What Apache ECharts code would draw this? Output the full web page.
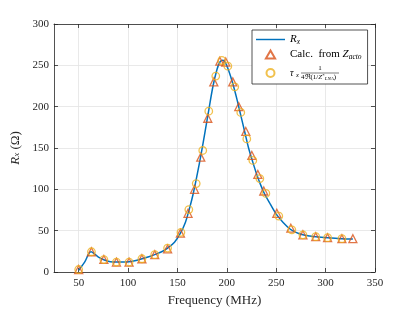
<!DOCTYPE html>
<html>
<head>
<meta charset="utf-8">
<script src="https://cdn.jsdelivr.net/npm/echarts@6/dist/echarts.min.js"></script>
<style>html,body{margin:0;padding:0;background:#fff}#c{width:415px;height:312px}</style>
</head>
<body>
<div id="c"></div>
<script>
// ---- data ----
const xTicks = [50, 100, 150, 200, 250, 300, 350];
const yTicks = [0, 50, 100, 150, 200, 250, 300];

// Rx (solid blue curve)
const lineFreq = [50, 56, 62.5, 66, 70, 76, 82, 88, 95, 101, 108, 114, 121, 127, 134, 140, 147, 153, 158, 162, 166, 170, 174, 178, 182, 186, 190, 193, 196, 199, 202, 206, 210, 214, 218, 222, 226, 230, 234, 238, 244, 250, 257, 264, 270, 277, 284, 290, 302, 316, 327.6];
const lineVals = [2, 12, 24.5, 22, 18, 14.5, 12.5, 12, 12, 12.5, 14, 16, 18.5, 21, 24.5, 29, 36, 47, 60, 76, 95, 118, 143, 170, 198, 225, 245, 254, 256, 252, 243, 228, 210, 190, 170, 150, 134, 119, 106, 95, 82, 70, 60, 52, 48, 45, 43.5, 42.5, 41.3, 40.3, 40];

// Calc. from Z_acto (triangles)
const triFreq = [50, 62.9, 75.5, 88.2, 101, 114, 127, 140, 153, 160.7, 167.3, 173.6, 180.7, 186.8, 192.9, 198.9, 206, 212.1, 219.2, 225.3, 231.4, 237.4, 250.6, 264.8, 277, 290, 302, 316.5, 327.6];
const triVals = [3, 24.5, 15.2, 12, 12, 16, 21, 28, 47, 71, 100, 139, 186, 230, 255, 254, 230, 200, 170, 141, 118, 98, 71, 53, 45, 42.7, 41.5, 40.3, 40.3];

// tau_x / (4 Re{1/Z*_LNA}) (circles)
const circFreq = [50, 62.9, 75.5, 88.2, 101, 114, 127, 140, 153.5, 161.5, 169, 175.6, 181.7, 188.8, 194.9, 201, 208, 214.1, 220.2, 226.3, 233.4, 239.5, 252.6, 265.8, 277, 290, 302, 316.5];
const circVals = [3, 24.5, 15, 12, 12, 16, 21, 29, 48, 75.5, 107, 147, 194.5, 237, 256, 249, 224, 193, 161, 135, 113, 95, 67.6, 51, 45, 42.7, 41.5, 40.3];

const zip = (a, b) => a.map((v, i) => [v, b[i]]);

const SERIF = "'Liberation Serif', 'DejaVu Serif', serif";
const AX = '#262626';
const GRID = '#e3e3e3';

const legendText = {
  'Rx': '{it|R}{sub|x}',
  'Calc': 'Calc.  from {it|Z}{sub|acto}',
  'Tau': '{pad|}{num|1}\n{tau|τ}{taus|x}{bar|}\n{pad|}{den|4ℜ(1/}{deni|Z}{sup|*}{dens|LNA}{den|)}'
};

const chart = echarts.init(document.getElementById('c'), null, {renderer: 'canvas'});
chart.setOption({
  animation: false,
  backgroundColor: '#fff',
  grid: {left: 54, right: 40, top: 24, bottom: 35},
  legend: {
    orient: 'vertical',
    left: 252, top: 30,
    itemWidth: 29, itemHeight: 8, itemGap: 2,
    padding: [3, 6, 1, 4],
    symbolKeepAspect: true,
    backgroundColor: '#fff',
    borderColor: AX, borderWidth: 0.8, borderRadius: 0,
    data: [
      {name: 'Rx', icon: 'path://M0,0 L100,0 L100,5 L0,5 Z'},
      {name: 'Calc', icon: 'path://M50,0 L100,87 L0,87 Z'},
      {name: 'Tau', icon: 'circle'}
    ],
    formatter: n => legendText[n],
    textStyle: {
      fontFamily: SERIF, fontSize: 11, color: '#000', lineHeight: 13,
      rich: {
        it: {fontFamily: SERIF, fontStyle: 'italic', fontSize: 11},
        sub: {fontFamily: SERIF, fontStyle: 'italic', fontSize: 7.5, verticalAlign: 'bottom', lineHeight: 10},
        pad: {width: 11, lineHeight: 8},
        num: {fontFamily: SERIF, fontSize: 7, width: 38, align: 'center', lineHeight: 8},
        tau: {fontFamily: SERIF, fontStyle: 'italic', fontSize: 10, lineHeight: 1, width: 6},
        taus: {fontFamily: SERIF, fontStyle: 'italic', fontSize: 6.5, lineHeight: 1, width: 5, padding: [5, 0, 0, 0]},
        bar: {width: 38, height: 0.7, lineHeight: 1, backgroundColor: '#000'},
        den: {fontFamily: SERIF, fontSize: 7, lineHeight: 8},
        deni: {fontFamily: SERIF, fontStyle: 'italic', fontSize: 7, lineHeight: 8},
        sup: {fontFamily: SERIF, fontSize: 5, lineHeight: 8, verticalAlign: 'top'},
        dens: {fontFamily: SERIF, fontStyle: 'italic', fontSize: 5, lineHeight: 8, verticalAlign: 'bottom'}
      }
    }
  },
  xAxis: [{
    type: 'value', min: 25, max: 350, position: 'bottom',
    name: 'Frequency (MHz)', nameLocation: 'middle', nameGap: 22,
    nameTextStyle: {fontFamily: SERIF, fontSize: 13, color: AX},
    axisLine: {show: true, onZero: false, lineStyle: {color: AX, width: 0.8}},
    axisTick: {show: true, inside: true, length: 4, customValues: xTicks, lineStyle: {color: AX, width: 0.8}},
    axisLabel: {customValues: xTicks, fontFamily: SERIF, fontSize: 11, color: AX, margin: 6},
    splitLine: {show: true, lineStyle: {color: GRID, width: 0.8}}
  }, {
    type: 'value', min: 25, max: 350, position: 'top',
    axisLine: {show: true, onZero: false, lineStyle: {color: AX, width: 0.8}},
    axisTick: {show: true, inside: true, length: 4, customValues: xTicks, lineStyle: {color: AX, width: 0.8}},
    axisLabel: {show: false},
    splitLine: {show: false}
  }],
  yAxis: [{
    type: 'value', min: 0, max: 300, interval: 50, position: 'left',
    name: '{i|R}{s|x} (Ω)', nameLocation: 'middle', nameGap: 28,
    nameTextStyle: {fontFamily: SERIF, fontSize: 13, color: AX,
      rich: {
        i: {fontFamily: SERIF, fontStyle: 'italic', fontSize: 13, color: AX},
        s: {fontFamily: SERIF, fontStyle: 'italic', fontSize: 9, color: AX, verticalAlign: 'bottom', lineHeight: 12}
      }},
    axisLine: {show: true, onZero: false, lineStyle: {color: AX, width: 0.8}},
    axisTick: {show: true, inside: true, length: 4, lineStyle: {color: AX, width: 0.8}},
    axisLabel: {fontFamily: SERIF, fontSize: 11, color: AX, margin: 5},
    splitLine: {show: true, lineStyle: {color: GRID, width: 0.8}}
  }, {
    type: 'value', min: 0, max: 300, interval: 50, position: 'right',
    axisLine: {show: true, onZero: false, lineStyle: {color: AX, width: 0.8}},
    axisTick: {show: true, inside: true, length: 4, lineStyle: {color: AX, width: 0.8}},
    axisLabel: {show: false},
    splitLine: {show: false}
  }],
  series: [{
    name: 'Rx', type: 'line', smooth: 0.35, symbol: 'none',
    data: zip(lineFreq, lineVals),
    lineStyle: {color: '#0072BD', width: 1.5}, itemStyle: {color: '#0072BD'}, z: 2
  }, {
    name: 'Calc', type: 'scatter', symbol: 'triangle', symbolSize: 8,
    data: zip(triFreq, triVals),
    itemStyle: {color: 'rgba(0,0,0,0)', borderColor: '#D95319', borderWidth: 1.3}, z: 3
  }, {
    name: 'Tau', type: 'scatter', symbol: 'circle', symbolSize: 7.5,
    data: zip(circFreq, circVals),
    itemStyle: {color: 'rgba(0,0,0,0)', borderColor: '#EDB120', borderWidth: 1.3}, z: 4
  }]
});
</script>
</body>
</html>
